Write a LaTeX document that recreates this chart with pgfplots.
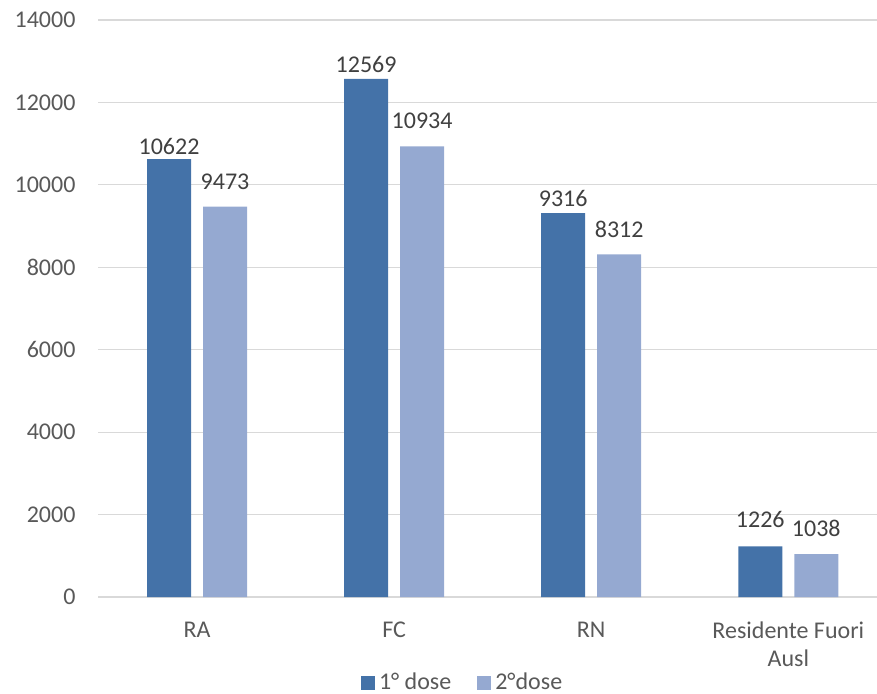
\documentclass[border=0pt]{standalone}
\usepackage{pgfplots}
\pgfplotsset{compat=1.18}
\usepackage{fontspec}
\setmainfont{Carlito}
\definecolor{cdark}{HTML}{4472A8}
\definecolor{clight}{HTML}{95A9D1}
\definecolor{cgrid}{HTML}{D9D9D9}
\definecolor{ctick}{HTML}{595959}
\definecolor{clab}{HTML}{404040}
\pgfplotstableread{
x y off
0 10622 -1.5
1 12569 -0.5
2 9316 -0.5
3 1226 6
}\dosea
\pgfplotstableread{
x y off
0 9473 5
1 10934 5.5
2 8312 5
3 1038 5
}\doseb
\begin{document}
\begin{tikzpicture}
\begin{axis}[
  at={(0,0)}, anchor=south west, scale only axis,
  width=389.25pt, height=288.5pt,
  ybar=6pt, bar width=22pt,
  xmin=-0.5, xmax=3.45, ymin=0, ymax=14000,
  xtick={0,1,2,3},
  xticklabels={RA,FC,RN,{Residente Fuori\\Ausl}},
  xticklabel style={align=center, yshift=-9pt},
  ytick={0,2000,...,14000},
  yticklabel style={xshift=-8pt},
  ymajorgrids, grid style={cgrid, line width=0.6pt},
  axis line style={draw=none}, major tick length=0pt,
  tick label style={font=\fontsize{12}{14}\selectfont, text=ctick},
  /pgf/number format/assume math mode=true,
  /pgf/number format/1000 sep={},
  scaled y ticks=false,
  nodes near coords,
  visualization depends on={\thisrow{off} \as \laboff},
  nodes near coords style={font=\fontsize{12}{14}\selectfont, text=clab, yshift=\laboff pt, /pgf/number format/assume math mode=true, /pgf/number format/1000 sep={}},
  legend style={at={(0.469,-0.149)}, anchor=center, draw=none, fill=none,
    legend columns=2, font=\fontsize{12}{14}\selectfont, text=ctick,
    /tikz/every even column/.append style={column sep=11pt}},
  legend image code/.code={\fill[#1] (-2.5pt,-3.5pt) rectangle (4.5pt,3.5pt);},
]
\addplot[fill=cdark, draw=none] table[x=x, y=y] {\dosea};
\addplot[fill=clight, draw=none] table[x=x, y=y] {\doseb};
\legend{1° dose, 2°dose}
\end{axis}
\pgfresetboundingbox
\path[use as bounding box] (-49.25pt,-48pt) rectangle (389.25pt,298.5pt);
\end{tikzpicture}
\end{document}
